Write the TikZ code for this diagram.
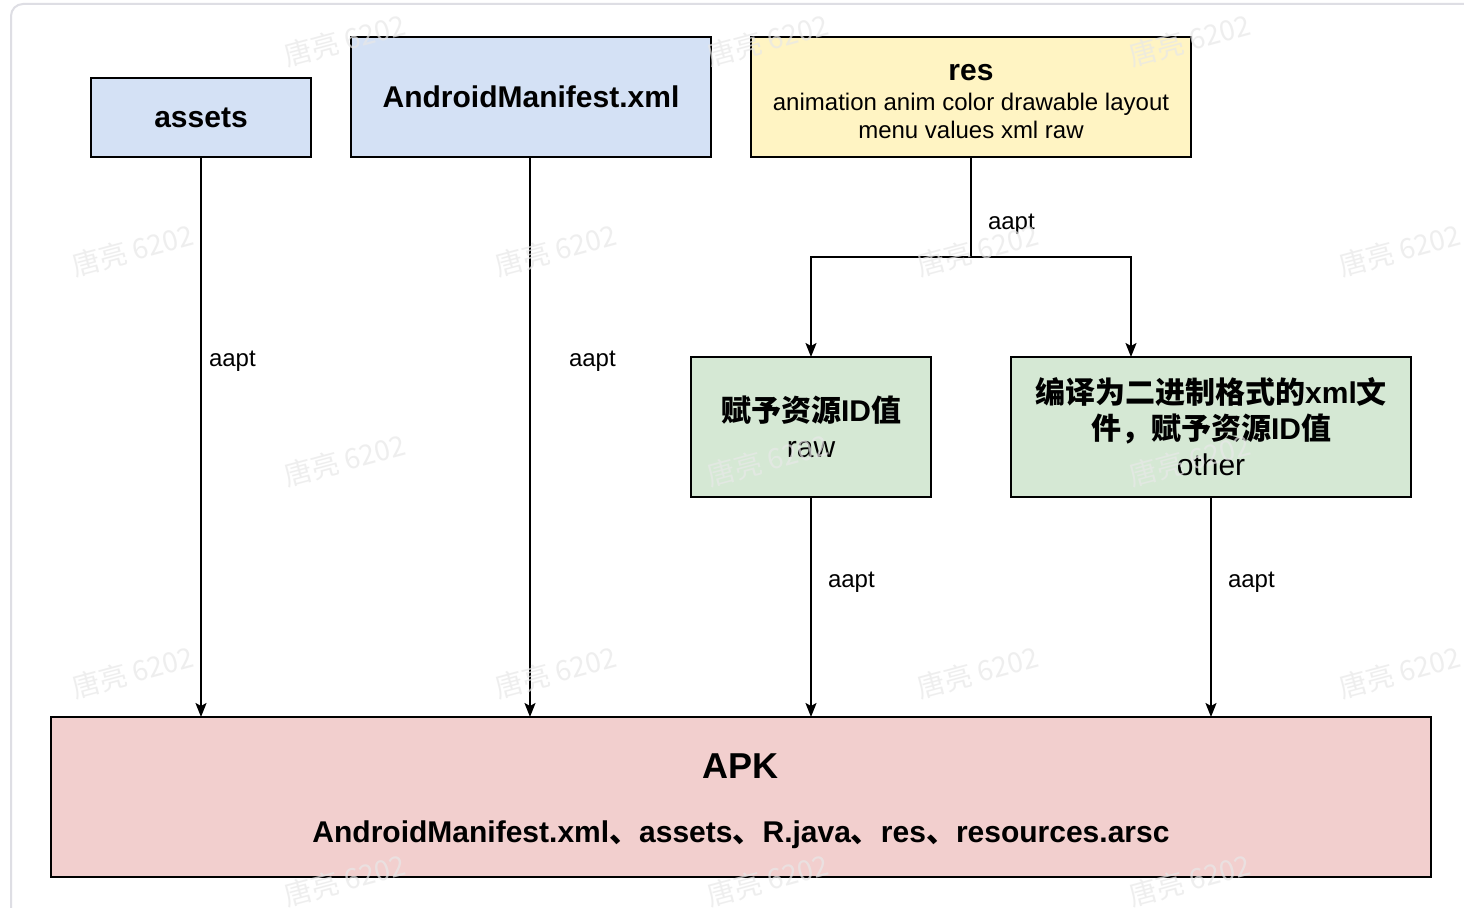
\documentclass[tikz,border=0pt]{standalone}
\usepackage{fontspec}
\setmainfont{Liberation Sans}
\newfontfamily\cjk{Noto Sans CJK SC}
\newcommand\zh[1]{{\cjk #1}}
\usetikzlibrary{arrows.meta}
\definecolor{bluefill}{HTML}{D4E1F5}
\definecolor{yellowfill}{HTML}{FFF4C3}
\definecolor{greenfill}{HTML}{D5E8D4}
\definecolor{redfill}{HTML}{F2CFCE}
\definecolor{framegray}{HTML}{DEDEE4}
\definecolor{wmgray}{HTML}{E8E8E8}
\tikzset{
  box/.style={draw=black, line width=1pt, inner sep=0pt, outer sep=0pt, align=center, text=black},
  boxtext/.style={inner sep=0pt, align=center, text=black},
  conn/.style={draw=black, line width=1pt, -{Stealth[length=7pt,width=5.5pt,inset=1.5pt]}},
  plainline/.style={draw=black, line width=1pt},
  lbl/.style={font=\fontsize{12}{14}\selectfont, inner sep=0pt, yshift=-2pt},
  wm/.style={font=\cjk\fontsize{14}{16}\selectfont, text=wmgray, text opacity=0.7, rotate=15, inner sep=0pt}
}
\begin{document}
\begin{tikzpicture}[x=0.5pt, y=-0.5pt]
\useasboundingbox (0,0) rectangle (1464,908);
\fill[white] (0,0) rectangle (1464,908);
\draw[framegray, line width=1pt, rounded corners=6pt] (11,930) -- (11,4) -- (1480,4);

% nodes
\node[box, fill=bluefill, minimum width=110pt, minimum height=39.5pt, font=\fontsize{15}{18}\selectfont\bfseries] (assets) at (201,117.5) {assets};
\node[box, fill=bluefill, minimum width=180pt, minimum height=60pt, font=\fontsize{15}{18}\selectfont\bfseries] (manifest) at (531,97) {AndroidManifest.xml};
\node[box, fill=yellowfill, minimum width=220pt, minimum height=60pt] (res) at (971,97) {};
\node[boxtext, font=\fontsize{12}{14}\selectfont] (restext) at (971,102)
  {{\fontsize{15}{18}\selectfont\bfseries res}\\[1pt]animation anim color drawable layout\\menu values xml raw};
\node[box, fill=greenfill, minimum width=120pt, minimum height=70pt, font=\fontsize{15}{18}\selectfont] (raw) at (811,427)
  {\bfseries\zh{赋予资源}ID\zh{值}\\raw};
\node[box, fill=greenfill, minimum width=200pt, minimum height=70pt, font=\fontsize{15}{18}\selectfont] (other) at (1211,427)
  {\bfseries\zh{编译为二进制格式的}xml\zh{文}\\\bfseries\zh{件，赋予资源}ID\zh{值}\\other};
\node[box, fill=redfill, minimum width=690pt, minimum height=80pt] (apk) at (741,797) {};
\node[boxtext, font=\fontsize{15}{18}\selectfont\bfseries] (apktext) at (741,801)
  {{\fontsize{18}{20}\selectfont APK}\\[14pt]AndroidManifest.xml\zh{、}assets\zh{、}R.java\zh{、}res\zh{、}resources.arsc};

% connectors
\coordinate (split) at (971,257);
\draw[conn] (assets.south) -- (assets.south |- apk.north) node[lbl, pos=0.357, right=3.5pt] {aapt};
\draw[conn] (manifest.south -| 530,0) -- (530,0 |- apk.north) node[lbl, pos=0.358, right=19pt] {aapt};
\draw[plainline] (res.south) -- (split) node[lbl, pos=0.63, right=8pt] {aapt};
\draw[conn] (split) -| (raw.north);
\draw[conn] (split) -| (other.north -| 1131,0);
\draw[conn] (raw.south) -- (raw.south |- apk.north) node[lbl, pos=0.37, right=8pt] {aapt};
\draw[conn] (other.south) -- (other.south |- apk.north) node[lbl, pos=0.37, right=8pt] {aapt};

% watermarks
\foreach \x/\y in {345/40, 768/40, 1190/40, 133/250, 556/250, 978/250, 1400/250, 345/460, 768/460, 1190/460, 133/672, 556/672, 978/672, 1400/672, 345/880, 768/880, 1190/880}
  \node[wm] at (\x,\y) {唐亮 6202};
\end{tikzpicture}
\end{document}
